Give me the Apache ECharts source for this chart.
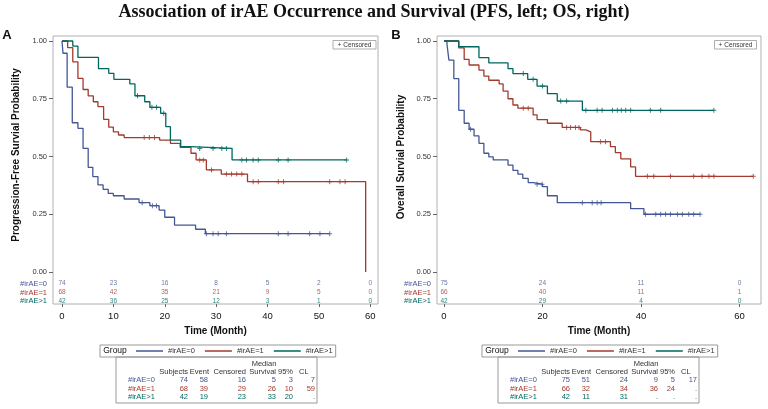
<!DOCTYPE html>
<html><head><meta charset="utf-8">
<script src="https://cdn.jsdelivr.net/npm/echarts@6/dist/echarts.min.js"></script>
<style>html,body{margin:0;padding:0;background:#fff}#c{width:768px;height:409px}</style>
</head><body><div id="c"></div><script>
// ---------- DATA ----------
const groups = ['#irAE=0', '#irAE=1', '#irAE>1'];
const colors = ['#445694', '#A23A2E', '#01665E'];

// PFS (left) – event times / survival after event / last follow-up / censor times
const pfsTime0 = [0.2,1.0,2.0,3.1,4.1,5.1,6.0,7.0,8.0,9.0,10.0,12.1,15.0,17.1,18.9,20.0,21.9,26.0,27.9];
const pfsSurv0 = [0.947,0.80,0.646,0.622,0.535,0.453,0.413,0.377,0.358,0.34,0.33,0.316,0.30,0.287,0.268,0.237,0.203,0.185,0.166];
const pfsLast0 = 52.1;
const pfsCens0 = [15.6,17.6,18.4,28.1,29.4,30.4,32.0,42.1,44.0,48.2,50.2,52.1];

const pfsTime1 = [1.1,2.1,3.1,4.1,5.1,6.1,7.0,8.1,9.1,10.0,11.0,12.1,19.0,21.1,23.0,25.1,26.1,28.1,31.0,36.1,59.1];
const pfsSurv1 = [0.971,0.91,0.838,0.79,0.762,0.737,0.716,0.661,0.627,0.607,0.593,0.582,0.571,0.557,0.54,0.514,0.485,0.442,0.424,0.391,0];
const pfsLast1 = 59.1;
const pfsCens1 = [16.0,17.0,18.0,26.8,27.5,29.1,32.0,33.0,34.0,35.0,37.2,38.2,42.1,43.1,52.1,54.1,55.1];

const pfsTime2 = [2.1,3.1,7.1,9.1,10.1,13.2,14.2,16.1,17.1,19.2,20.2,21.1,23.1,25.0,33.1];
const pfsSurv2 = [0.978,0.929,0.88,0.86,0.834,0.814,0.763,0.737,0.713,0.687,0.629,0.571,0.543,0.535,0.485];
const pfsLast2 = 55.4;
const pfsCens2 = [14.7,17.5,18.4,19.8,26.8,29.4,31.1,32.0,35.0,35.9,37.2,38.2,42.1,44.0,55.4];

// OS (right)
const osTime0 = [0.6,1.0,2.0,3.0,4.1,5.1,6.1,7.1,8.1,9.1,10.0,13.0,14.0,15.0,16.0,17.1,18.1,20.0,21.0,23.0,37.9,40.6];
const osSurv0 = [0.987,0.917,0.837,0.70,0.644,0.618,0.589,0.557,0.514,0.498,0.485,0.463,0.44,0.424,0.405,0.387,0.38,0.37,0.33,0.30,0.274,0.25];
const osLast0 = 52.0;
const osCens0 = [5.4,18.9,19.9,28.1,30.1,31.1,31.9,40.9,43.0,44.0,45.0,46.0,47.4,48.4,49.7,50.7,52.0];

const osTime1 = [3.0,4.1,5.1,7.1,8.1,9.1,11.2,12.0,13.0,14.0,15.0,18.1,18.9,21.0,24.0,27.7,28.8,29.8,33.8,34.8,35.9,37.9,38.9];
const osSurv1 = [0.97,0.92,0.896,0.874,0.848,0.83,0.814,0.783,0.75,0.723,0.709,0.68,0.66,0.644,0.626,0.615,0.607,0.564,0.543,0.517,0.49,0.455,0.414];
const osLast1 = 62.8;
const osCens1 = [16.1,17.1,24.9,25.7,26.7,27.4,31.8,32.8,41.3,42.6,46.0,50.7,52.4,53.8,54.8,62.8];

const osTime2 = [3.0,7.1,9.1,13.0,14.0,17.0,18.9,21.0,23.0,28.1];
const osSurv2 = [0.975,0.928,0.905,0.88,0.859,0.834,0.805,0.772,0.74,0.70];
const osLast2 = 54.8;
const osCens2 = [16.1,18.1,20.0,23.7,24.9,28.8,31.1,32.1,34.2,35.2,36.0,36.9,37.9,41.9,44.0,54.8];

// Numbers at risk
const pfsRiskTimes = [0,10,20,30,40,50,60];
const pfsRisk0 = [74,23,16,8,5,2,0];
const pfsRisk1 = [68,42,35,21,9,5,0];
const pfsRisk2 = [42,36,25,12,3,1,0];
const osRiskTimes = [0,20,40,60];
const osRisk0 = [75,24,11,0];
const osRisk1 = [66,40,11,1];
const osRisk2 = [42,29,4,0];

// Tick labels
const pfsXTicks = [0,10,20,30,40,50,60];
const osXTicks = [0,20,40,60];
const yTicks = [0,0.25,0.5,0.75,1];

// Summary tables
const pfsSubjects = [74,68,42], pfsEvents = [58,39,19], pfsCensored = [16,29,23];
const pfsMedian = [5,26,33], pfsLCL = [3,10,20], pfsUCL = [7,59,'.'];
const osSubjects = [75,66,42], osEvents = [51,32,11], osCensored = [24,34,31];
const osMedian = [9,36,'.'], osLCL = [5,24,'.'], osUCL = [17,'.','.'];

// ---------- LAYOUT ----------
const FONT = '"Liberation Sans", Arial, sans-serif';
const riskRowY = [-0.05, -0.089, -0.126];
const Y_MIN = -0.1385, Y_MAX = 1.0216;

function steps(T, S, last) {
  const d = [[0, 1]];
  T.forEach((t, i) => d.push([t, S[i]]));
  if (last > T[T.length - 1]) d.push([last, S[S.length - 1]]);
  return d;
}
function survAt(T, S, t) {
  let s = 1;
  for (let i = 0; i < T.length; i++) if (T[i] <= t + 1e-9) s = S[i];
  return s;
}
const plus = 'path://M2,0L3,0L3,2L5,2L5,3L3,3L3,5L2,5L2,3L0,3L0,2L2,2Z';

function yAxisCfg(gi) {
  const rich = { t: { fontSize: 7.5, color: '#333', fontFamily: FONT } };
  groups.forEach((g, i) => rich['r' + i] = { fontSize: 7.5, color: colors[i], fontFamily: FONT });
  return {
    gridIndex: gi, type: 'value', min: Y_MIN, max: Y_MAX,
    splitLine: { show: false },
    axisLine: { show: false, onZero: false },
    axisTick: { show: true, length: 4, customValues: yTicks, lineStyle: { color: '#666' } },
    axisLabel: {
      margin: 6, customValues: riskRowY.concat(yTicks),
      formatter: v => {
        for (let i = 0; i < 3; i++) if (Math.abs(v - riskRowY[i]) < 1e-6) return '{r' + i + '|' + groups[i] + '}';
        return '{t|' + v.toFixed(2) + '}';
      },
      rich
    }
  };
}
function xAxisCfg(gi, min, max, ticks) {
  return {
    gridIndex: gi, type: 'value', min, max,
    splitLine: { show: false },
    axisLine: { show: false, onZero: false },
    axisTick: { show: true, length: 3, customValues: ticks, lineStyle: { color: '#666' } },
    axisLabel: { margin: 7, customValues: ticks, fontSize: 9.5, color: '#111', fontFamily: FONT },
    name: 'Time (Month)', nameLocation: 'middle', nameGap: 22,
    nameTextStyle: { fontSize: 10, fontWeight: 'bold', color: '#111', fontFamily: FONT }
  };
}

const panels = [
  { T: [pfsTime0, pfsTime1, pfsTime2], S: [pfsSurv0, pfsSurv1, pfsSurv2], L: [pfsLast0, pfsLast1, pfsLast2],
    C: [pfsCens0, pfsCens1, pfsCens2], RT: pfsRiskTimes, R: [pfsRisk0, pfsRisk1, pfsRisk2] },
  { T: [osTime0, osTime1, osTime2], S: [osSurv0, osSurv1, osSurv2], L: [osLast0, osLast1, osLast2],
    C: [osCens0, osCens1, osCens2], RT: osRiskTimes, R: [osRisk0, osRisk1, osRisk2] }
];

const series = [];
panels.forEach((p, gi) => {
  for (let g = 0; g < 3; g++) {
    series.push({
      name: groups[g], type: 'line', step: 'end', xAxisIndex: gi, yAxisIndex: gi,
      data: steps(p.T[g], p.S[g], p.L[g]), showSymbol: false, symbol: 'none',
      color: colors[g], lineStyle: { color: colors[g], width: 1.3 }, animation: false, z: 3
    });
    series.push({
      name: 'cens' + gi + g, type: 'scatter', xAxisIndex: gi, yAxisIndex: gi,
      data: p.C[g].map(t => [t, survAt(p.T[g], p.S[g], t)]),
      symbol: plus, symbolSize: 5, itemStyle: { color: colors[g] }, animation: false, z: 4
    });
    series.push({
      name: 'risk' + gi + g, type: 'scatter', xAxisIndex: gi, yAxisIndex: gi,
      data: p.RT.map((t, i) => [t, riskRowY[g], p.R[g][i]]),
      symbol: 'circle', symbolSize: 1, itemStyle: { color: 'rgba(0,0,0,0)' }, animation: false, z: 5,
      label: { show: true, position: 'inside', formatter: q => String(q.value[2]), fontSize: 6.5, color: colors[g], fontFamily: FONT }
    });
  }
});

function statsTable(ox, subj, ev, cens, med, lcl, ucl) {
  const els = [];
  const tx = (text, x, y, align, color, size) => els.push({
    type: 'text', x, y, silent: true,
    style: { text: String(text), fontSize: size || 7.5, fontFamily: FONT, fill: color || '#333', align, verticalAlign: 'middle' }
  });
  els.push({ type: 'rect', shape: { x: ox, y: 357, width: 201, height: 46 }, style: { fill: 'none', stroke: '#999', lineWidth: 1 } });
  tx('Median', ox + 148, 364, 'center');
  tx('Subjects', ox + 72, 372, 'right');
  tx('Event', ox + 93, 372, 'right');
  tx('Censored', ox + 130, 372, 'right');
  tx('Survival', ox + 160, 372, 'right');
  tx('95%', ox + 177, 372, 'right');
  tx('CL', ox + 183, 372, 'left');
  const rows = [380, 388.5, 397];
  for (let g = 0; g < 3; g++) {
    const y = rows[g], c = colors[g];
    tx(groups[g], ox + 12, y, 'left', c);
    tx(subj[g], ox + 72, y, 'right', c);
    tx(ev[g], ox + 92, y, 'right', c);
    tx(cens[g], ox + 130, y, 'right', c);
    tx(med[g], ox + 160, y, 'right', c);
    tx(lcl[g], ox + 177, y, 'right', c);
    tx(ucl[g], ox + 199, y, 'right', c);
  }
  return els;
}
function censBox(x, w) {
  return [
    { type: 'rect', shape: { x, y: 40.5, width: w, height: 8.5 }, style: { fill: '#fff', stroke: '#999', lineWidth: 0.8 } },
    { type: 'text', x: x + w / 2, y: 44.8, style: { text: '+ Censored', fontSize: 6.5, fontFamily: FONT, fill: '#333', align: 'center', verticalAlign: 'middle' } }
  ];
}
function txt(text, x, y, size, weight, extra) {
  return Object.assign({ type: 'text', x, y, silent: true,
    style: { text, fontSize: size, fontWeight: weight || 'normal', fontFamily: FONT, fill: '#111', align: 'center', verticalAlign: 'middle' } }, extra || {});
}

const graphic = [
  { type: 'text', x: 374, y: 12, style: { text: 'Association of irAE Occurrence and Survival (PFS, left; OS, right)',
      fontSize: 18, fontWeight: 'bold', fontFamily: '"Liberation Serif", "Times New Roman", serif', fill: '#111', align: 'center', verticalAlign: 'middle' } },
  txt('A', 7, 35, 13, 'bold'),
  txt('B', 396, 35, 13, 'bold'),
  txt('Progression-Free Survial Probability', 16, 155, 10, 'bold', { rotation: Math.PI / 2 }),
  txt('Overall Survial Probability', 401, 157, 10, 'bold', { rotation: Math.PI / 2 }),
  txt('Group', 115, 351, 8.5, 'normal'),
  txt('Group', 497, 351, 8.5, 'normal'),
  ...censBox(333, 43),
  ...censBox(714.5, 42),
  ...statsTable(116, pfsSubjects, pfsEvents, pfsCensored, pfsMedian, pfsLCL, pfsUCL),
  ...statsTable(498, osSubjects, osEvents, osCensored, osMedian, osLCL, osUCL)
];

function legendCfg(left) {
  return {
    left, top: 345, data: groups, icon: 'rect', itemWidth: 27, itemHeight: 1.5, itemGap: 10,
    padding: [2, 3, 2, 36], borderColor: '#999', borderWidth: 1, selectedMode: false,
    textStyle: { fontSize: 7.5, color: '#333', fontFamily: FONT }
  };
}

const option = {
  backgroundColor: '#fff',
  animation: false,
  grid: [
    { left: 53, top: 36, width: 325, height: 268, show: true, borderColor: '#b0b0b0', borderWidth: 1 },
    { left: 437, top: 36, width: 324, height: 268, show: true, borderColor: '#b0b0b0', borderWidth: 1 }
  ],
  xAxis: [xAxisCfg(0, -1.75, 61.5, pfsXTicks), xAxisCfg(1, -1.42, 64.37, osXTicks)],
  yAxis: [yAxisCfg(0), yAxisCfg(1)],
  legend: [legendCfg(100), legendCfg(482)],
  series,
  graphic
};
const chart = echarts.init(document.getElementById('c'));
chart.setOption(option);
</script></body></html>
